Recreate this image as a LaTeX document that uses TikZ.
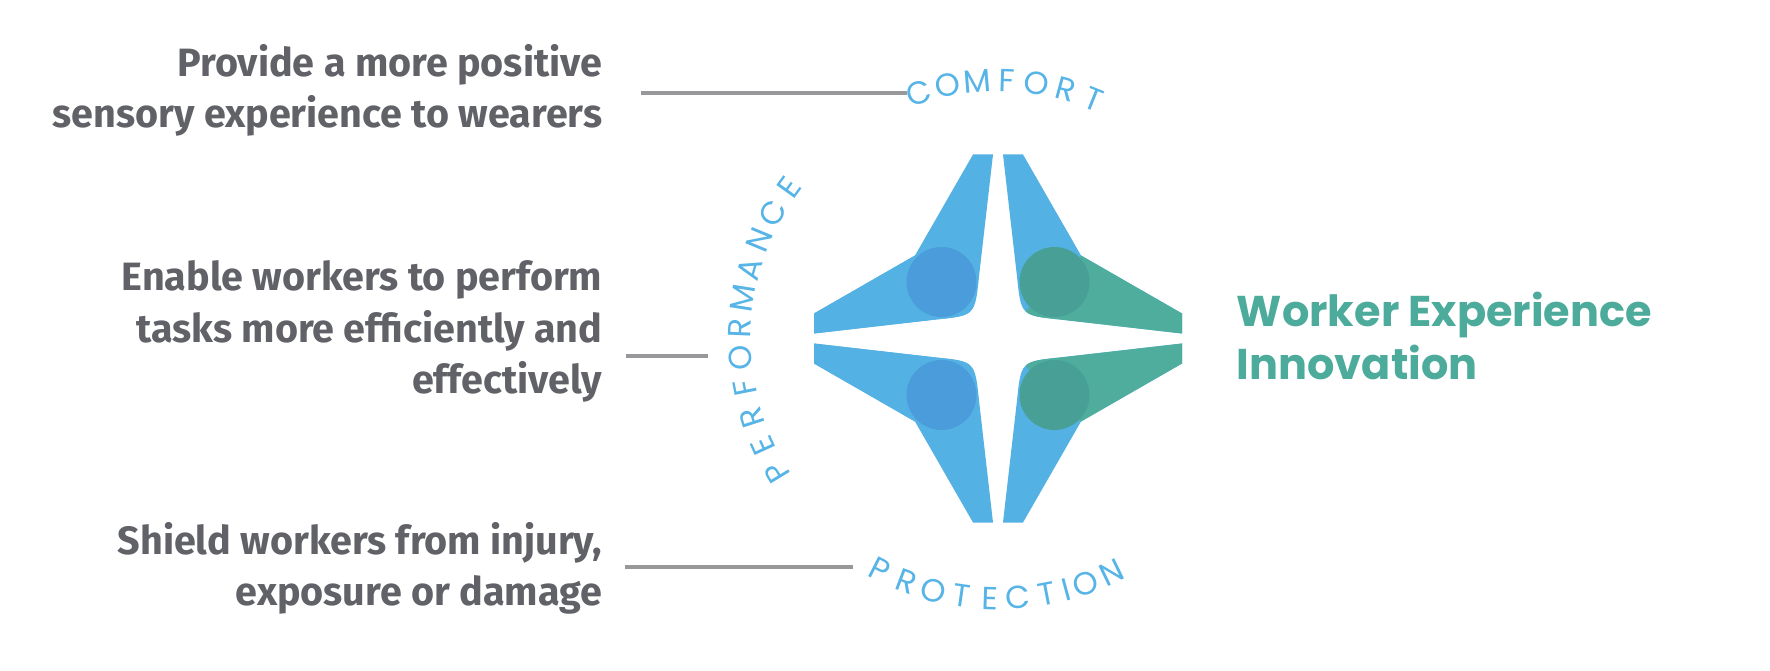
\documentclass[tikz,border=0pt]{standalone}
\usepackage{fontspec}
\setmainfont{Fira Sans}
\newfontfamily\labelfont{Fira Sans}
\newfontfamily\titlefont{Poppins}
\newfontfamily\arcfont{Poppins}
\usetikzlibrary{calc}
\definecolor{txtgray}{RGB}{97,98,104}
\definecolor{linegray}{RGB}{152,152,155}
\definecolor{arcblue}{RGB}{86,180,231}
\definecolor{armblue}{RGB}{84,177,228}
\definecolor{circblue}{RGB}{74,157,218}
\definecolor{armgreen}{RGB}{79,173,158}
\definecolor{circteal}{RGB}{72,159,150}
\definecolor{titlegreen}{RGB}{77,171,155}
\tikzset{
  desc/.style={anchor=base east, inner sep=0pt, text=txtgray,
    font=\labelfont\bfseries\fontsize{39.5}{46}\selectfont},
  lead/.style={draw=linegray, line width=3.7pt},
  arcl/.style={inner sep=0pt, text=arcblue,
    font=\arcfont\fontsize{32}{32}\selectfont},
  titletext/.style={anchor=base west, inner sep=0pt, text=titlegreen,
    font=\titlefont\bfseries\fontsize{43}{50}\selectfont},
}
% one quarter of the star: #1 main arm colour, #2 side arm colour, #3 circle colour
\newcommand\starquad[3]{%
  \begin{scope}
    \clip (-25,184) -- (-5,184) -- (-19,62) .. controls (-23,23) .. (-62,19)
      -- (-184,5) -- (-184,25) -- (-83,83) -- cycle;
    \fill[#1] (-200,-10) rectangle (10,200);
    \fill[#2] (0,0) -- (-300,300) -- (-300,0) -- cycle;
  \end{scope}
  \fill[#3] (-56.5,56.5) circle (35);
}
\begin{document}
\begin{tikzpicture}[x=1pt,y=1pt]
\useasboundingbox (0,0) rectangle (1770,670);
\fill[white] (0,0) rectangle (1770,670);

% star
\coordinate (star) at (998,331.5);
\begin{scope}[shift={(star)}]
  \starquad{armblue}{armblue}{circblue}
  \begin{scope}[yscale=-1]
    \starquad{armblue}{armblue}{circblue}
  \end{scope}
  \begin{scope}[xscale=-1]
    \starquad{armblue}{armgreen}{circteal}
  \end{scope}
  \begin{scope}[xscale=-1,yscale=-1]
    \starquad{armblue}{armgreen}{circteal}
  \end{scope}
\end{scope}

% arc words
\foreach \ch [count=\i] in {C,O,M,F,O,R,T} {
  \pgfmathsetmacro\ang{107.8-6.6*(\i-1)}
  \node[arcl, rotate=\ang-90] (cm\i) at ($(star)+(\ang:258)$) {\ch};
}
\foreach \ch [count=\i] in {P,E,R,F,O,R,M,A,N,C,E} {
  \pgfmathsetmacro\ang{211.2-6.7*(\i-1)}
  \node[arcl, rotate=\ang-90] (pf\i) at ($(star)+(\ang:258)$) {\ch};
}
\foreach \ch/\ang [count=\i] in {P/243,R/249.3,O/255.6,T/261.9,E/268.2,C/274.5,T/280.8,I/285.2,O/289.6,N/295.9} {
  \node[arcl, rotate=\ang+90] (pr\i) at ($(star)+(\ang:260)$) {\ch};
}

% descriptions
\node[desc] (d1a) at (602.5,593.5) {Provide a more positive};
\node[desc] (d1b) at (602.5,542) {sensory experience to wearers};
\node[desc] (d2a) at (602.5,379) {Enable workers to perform};
\node[desc] (d2b) at (602.5,327.5) {tasks more efficiently and};
\node[desc] (d2c) at (602.5,276) {effectively};
\node[desc] (d3a) at (602.5,116) {Shield workers from injury,};
\node[desc] (d3b) at (602.5,64.5) {exposure or damage};

% leader lines
\coordinate (l1s) at (641,577.3);
\coordinate (l1e) at (907,577.3);
\coordinate (l2s) at (625.5,314);
\coordinate (l2e) at (708,314);
\coordinate (l3s) at (625,103.3);
\coordinate (l3e) at (853,103.3);
\draw[lead] (l1s) -- (l1e);
\draw[lead] (l2s) -- (l2e);
\draw[lead] (l3s) -- (l3e);

% title
\node[titletext] (w1) at (1236.7,343.3) {Worker Experience};
\node[titletext] (w2) at (1236.7,290) {Innovation};
\end{tikzpicture}
\end{document}
